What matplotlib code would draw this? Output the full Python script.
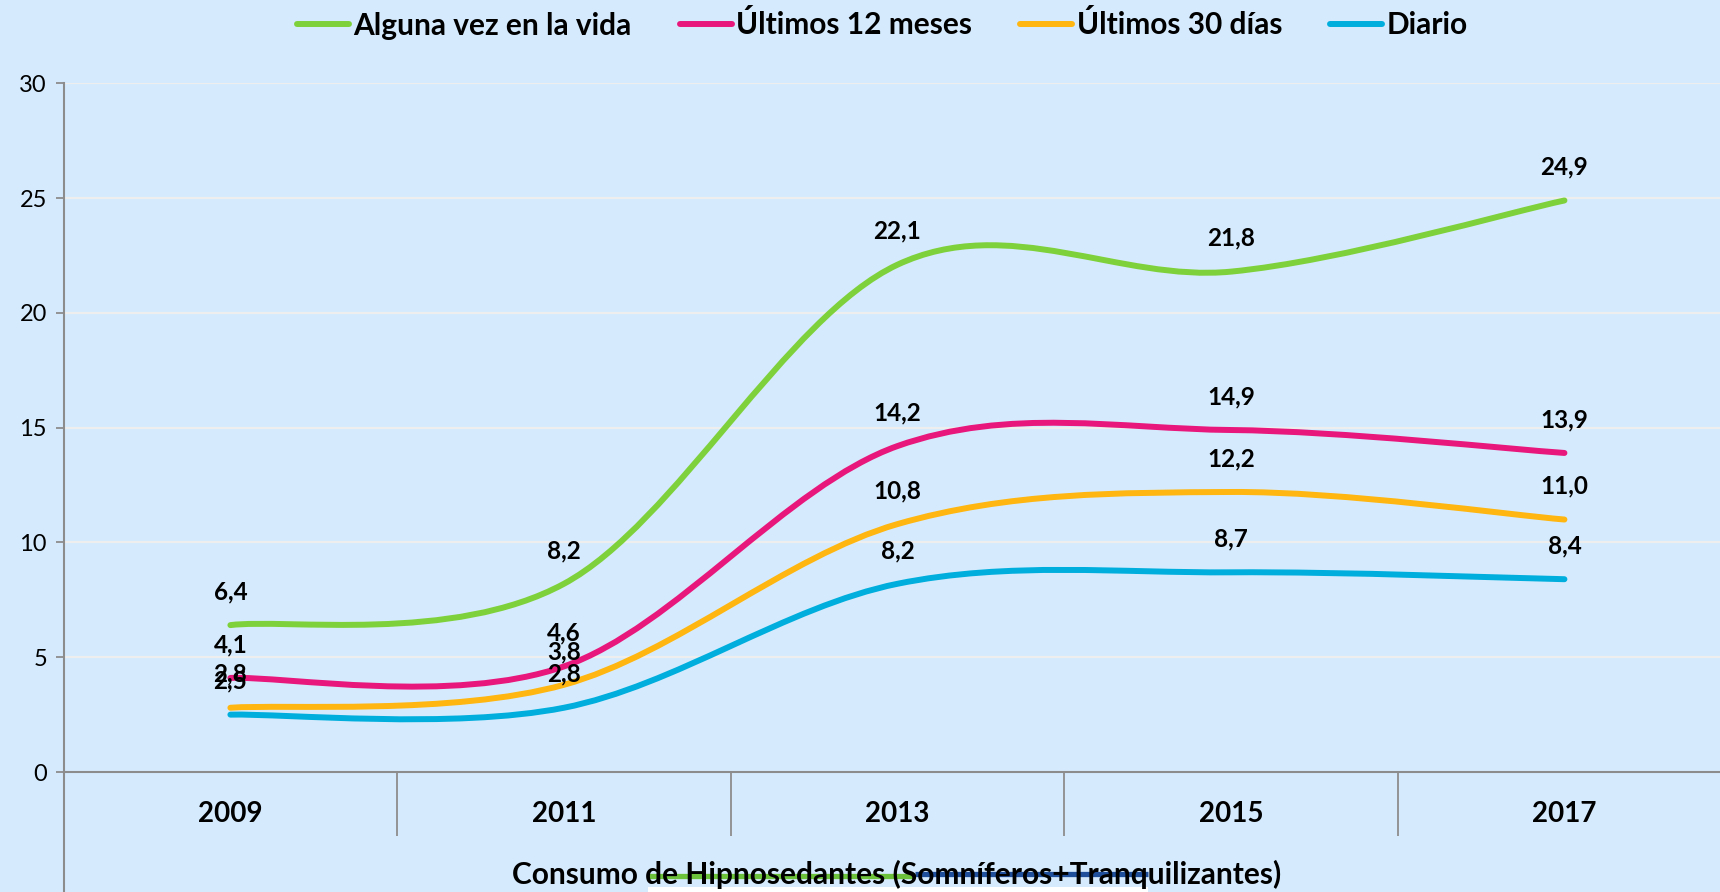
import matplotlib
matplotlib.use("Agg")
import matplotlib.pyplot as plt
from matplotlib.path import Path
from matplotlib.patches import PathPatch, Rectangle
from matplotlib.lines import Line2D

# datos
years = ["2009", "2011", "2013", "2015", "2017"]
series_names = ["Alguna vez en la vida", "Últimos 12 meses", "Últimos 30 días", "Diario"]
vida = [6.4, 8.2, 22.1, 21.8, 24.9]
meses12 = [4.1, 4.6, 14.2, 14.9, 13.9]
dias30 = [2.8, 3.8, 10.8, 12.2, 11.0]
diario = [2.5, 2.8, 8.2, 8.7, 8.4]
colors = ["#7fd13b", "#e8177b", "#ffb610", "#00aedd"]
title = "Consumo de Hipnosedantes (Somníferos+Tranquilizantes)"

BG = "#d5ebfd"
AXC = "#8c8c8c"
W, H = 1720, 892
plt.rcParams["font.family"] = ["Lato", "DejaVu Sans"]


def smooth_path(xs, ys):
    # curva suavizada tipo Excel (Catmull-Rom -> Bezier)
    pts = list(zip(xs, ys))
    verts = [pts[0]]
    codes = [Path.MOVETO]
    n = len(pts)
    for i in range(n - 1):
        p0 = pts[max(i - 1, 0)]
        p1 = pts[i]
        p2 = pts[i + 1]
        p3 = pts[min(i + 2, n - 1)]
        c1 = (p1[0] + (p2[0] - p0[0]) / 6, p1[1] + (p2[1] - p0[1]) / 6)
        c2 = (p2[0] - (p3[0] - p1[0]) / 6, p2[1] - (p3[1] - p1[1]) / 6)
        verts += [c1, c2, p2]
        codes += [Path.CURVE4] * 3
    return Path(verts, codes)


fig = plt.figure(figsize=(17.2, 8.92), dpi=100, facecolor=BG)
ax = fig.add_axes([0.037, 0.1345, 0.9695, 0.772])
ax.set_facecolor(BG)

x = list(range(len(years)))
for vals, c in zip([vida, meses12, dias30, diario], colors):
    patch = PathPatch(smooth_path(x, vals), facecolor="none", edgecolor=c,
                      lw=4.3, capstyle="round", zorder=3)
    ax.add_patch(patch)
    for xi, v in zip(x, vals):
        ax.annotate(f"{v:.1f}".replace(".", ","), (xi, v), xytext=(0, 24),
                    textcoords="offset points", ha="center", va="center",
                    fontsize=17.5, fontweight="bold", color="black", zorder=4)

ax.set_xlim(-0.5, 4.5)
ax.set_ylim(0, 30)
ax.set_yticks(range(0, 31, 5))
ax.grid(axis="y", color="#eeeeee", lw=1.5, zorder=1)
ax.set_axisbelow(True)
ax.tick_params(axis="y", direction="out", length=6, width=1.3, color=AXC,
               labelsize=17, pad=6)

ax.set_xticks([i + 0.5 for i in range(4)], minor=True)
ax.set_xticks(x)
ax.set_xticklabels(years, fontsize=20, fontweight="bold")
ax.tick_params(axis="x", which="major", length=0, pad=21)
ax.tick_params(axis="x", which="minor", direction="out", length=46, width=1.3,
               color=AXC)

for s in ["top", "right"]:
    ax.spines[s].set_visible(False)
ax.spines["bottom"].set_color(AXC)
ax.spines["bottom"].set_linewidth(1.5)
ax.spines["left"].set_color(AXC)
ax.spines["left"].set_linewidth(1.5)
ax.spines["left"].set_bounds(-6, 30)

# restos de la imagen original bajo el título
fig.add_artist(Rectangle((648 / W, 0), 500 / W, 5 / H, transform=fig.transFigure,
                         facecolor="white", edgecolor="none"))
fig.add_artist(Line2D([647 / W, 915 / W], [1 - 876 / H] * 2, color="#6cc23a",
                      lw=3.8, solid_capstyle="butt"))
fig.add_artist(Line2D([915 / W, 1148 / W], [1 - 874 / H] * 2, color="#1f4e9a",
                      lw=3.8, solid_capstyle="butt"))
fig.text(897 / W, 1 - 874 / H, title, ha="center", va="center",
         fontsize=21.5, fontweight="bold")

handles = [Line2D([0], [0], color=c, lw=4.3, solid_capstyle="round") for c in colors]
fig.legend(handles, series_names, loc="center", bbox_to_anchor=(0.513, 1 - 25 / H),
           ncol=4, frameon=False, handlelength=1.75, handletextpad=0.15,
           columnspacing=1.6, prop={"size": 21.5, "weight": "bold"})

fig.savefig("out.png", dpi=100, facecolor=BG)
